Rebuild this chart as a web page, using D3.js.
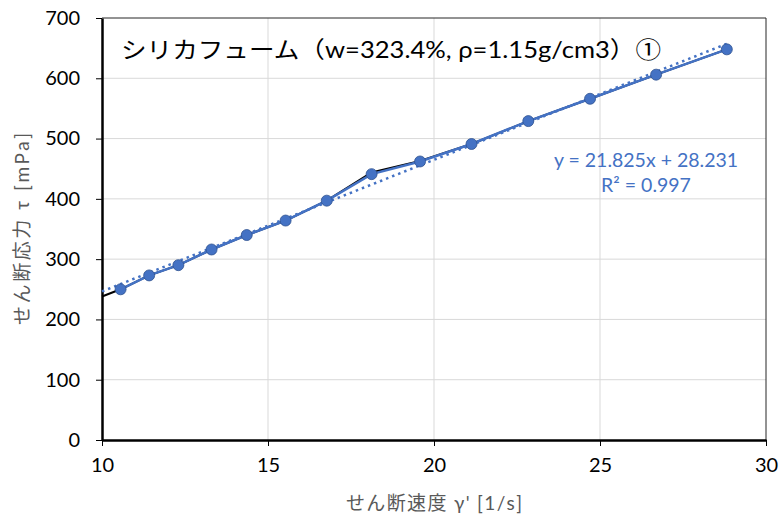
<!DOCTYPE html>
<html>
<head>
<meta charset="utf-8">
<script src="https://cdn.jsdelivr.net/npm/d3@7"></script>
<style>
  body { margin: 0; background: #fff; }
  text { font-family: Lato, "Noto Sans CJK JP", sans-serif; }
</style>
</head>
<body>
<svg id="chart"></svg>
<script>
// shear rate [1/s] and shear stress [mPa]
const rate = [10.56, 11.42, 12.30, 13.30, 14.36, 15.53, 16.77, 18.12, 19.58, 21.13, 22.84, 24.70, 26.69, 28.82];
const stress = [250, 273, 290, 316, 340, 364, 397, 441, 462, 491, 529, 566, 606, 648];
// black series underneath (starts at the axis)
const rawRate = [10.0, 10.56, 11.42, 12.30, 13.30, 14.36, 15.53, 16.77, 18.12, 19.58, 21.13, 22.84, 24.70, 26.69, 28.82];
const rawStress = [238, 250, 273, 290, 316, 340, 364, 397, 444, 463, 491, 529, 566, 606, 648];
// linear trendline
const slope = 21.825, intercept = 28.231;
const trendRange = [10.0, 28.82];
const xTicks = [10, 15, 20, 25, 30];
const yTicks = [0, 100, 200, 300, 400, 500, 600, 700];

const width = 780, height = 521;
const margin = {top: 18, right: 14, bottom: 81, left: 102};

const svg = d3.select("#chart")
  .attr("width", width)
  .attr("height", height);

const xScale = d3.scaleLinear()
  .domain([10, 30])
  .range([margin.left, width - margin.right]);

const yScale = d3.scaleLinear()
  .domain([0, 700])
  .range([height - margin.bottom, margin.top]);

// gridlines
svg.append("g")
  .selectAll("line.hgrid")
  .data(yTicks.slice(1, -1))
  .join("line")
  .attr("x1", margin.left).attr("x2", width - margin.right)
  .attr("y1", d => yScale(d)).attr("y2", d => yScale(d))
  .attr("stroke", "#d9d9d9").attr("stroke-width", 1);

svg.append("g")
  .selectAll("line.vgrid")
  .data(xTicks.slice(1, -1))
  .join("line")
  .attr("x1", d => xScale(d)).attr("x2", d => xScale(d))
  .attr("y1", margin.top).attr("y2", height - margin.bottom)
  .attr("stroke", "#d9d9d9").attr("stroke-width", 1);

// top and right border
svg.append("path")
  .attr("d", `M${margin.left},${margin.top}H${width - margin.right}V${height - margin.bottom}`)
  .attr("fill", "none")
  .attr("stroke", "#262626")
  .attr("stroke-width", 1);

// axes
const xAxis = svg.append("g")
  .attr("transform", `translate(0,${height - margin.bottom})`)
  .call(d3.axisBottom(xScale).tickValues(xTicks).tickSize(6).tickPadding(12).tickSizeOuter(0));

const yAxis = svg.append("g")
  .attr("transform", `translate(${margin.left},0)`)
  .call(d3.axisLeft(yScale).tickValues(yTicks).tickSize(6).tickPadding(16).tickSizeOuter(0));

[xAxis, yAxis].forEach(ax => {
  ax.select(".domain").attr("stroke", "#000").attr("stroke-width", 2.5);
  ax.selectAll(".tick line").attr("stroke", "#000").attr("stroke-width", 1);
  ax.selectAll(".tick text").attr("font-size", 20).attr("fill", "#000")
    .style("font-family", "Lato, 'Noto Sans CJK JP', sans-serif");
});

// axis labels
svg.append("text")
  .attr("x", xScale(20))
  .attr("y", 510)
  .attr("text-anchor", "middle")
  .attr("font-size", 19)
  .attr("textLength", 176)
  .attr("fill", "#595959")
  .text("せん断速度 γ' [1/s]");

svg.append("text")
  .attr("transform", `translate(29,${yScale(350)}) rotate(-90)`)
  .attr("text-anchor", "middle")
  .attr("font-size", 19)
  .attr("textLength", 192)
  .attr("fill", "#595959")
  .text("せん断応力 τ [mPa]");

// black line
const rawData = rawRate.map((r, i) => ({x: r, y: rawStress[i]}));
const data = rate.map((r, i) => ({x: r, y: stress[i]}));

const line = d3.line()
  .x(d => xScale(d.x))
  .y(d => yScale(d.y));

svg.append("path")
  .datum(rawData)
  .attr("d", line)
  .attr("fill", "none")
  .attr("stroke", "#000")
  .attr("stroke-width", 2);

// blue line
svg.append("path")
  .datum(data)
  .attr("d", line)
  .attr("fill", "none")
  .attr("stroke", "#4472c4")
  .attr("stroke-width", 2.5);

// trendline (dotted)
svg.append("path")
  .datum(trendRange.map(x => ({x: x, y: slope * x + intercept})))
  .attr("d", line)
  .attr("fill", "none")
  .attr("stroke", "#4472c4")
  .attr("stroke-width", 2.5)
  .attr("stroke-dasharray", "2.5,4");

// markers
svg.append("g")
  .selectAll("circle")
  .data(data)
  .join("circle")
  .attr("cx", d => xScale(d.x))
  .attr("cy", d => yScale(d.y))
  .attr("r", 5.5)
  .attr("fill", "#4472c4")
  .attr("stroke", "#2f528f")
  .attr("stroke-width", 0.8);

// trendline equation
const eq = svg.append("text")
  .attr("text-anchor", "middle")
  .attr("font-size", 19.5)
  .attr("fill", "#4472c4");
eq.append("tspan").attr("x", 646).attr("y", 167).text("y = 21.825x + 28.231");
eq.append("tspan").attr("x", 646).attr("y", 192).text("R² = 0.997");

// title
const title = svg.append("text")
  .attr("x", 121)
  .attr("y", 58)
  .attr("font-size", 23)
  .attr("fill", "#000")
  .attr("textLength", 540)
  .attr("lengthAdjust", "spacingAndGlyphs");
title.append("tspan").text("シリカフューム（w=323.4%, ρ=1.15g/cm3）");
title.append("tspan").style("font-family", "'Noto Sans CJK JP', sans-serif").text("①");
</script>
</body>
</html>
